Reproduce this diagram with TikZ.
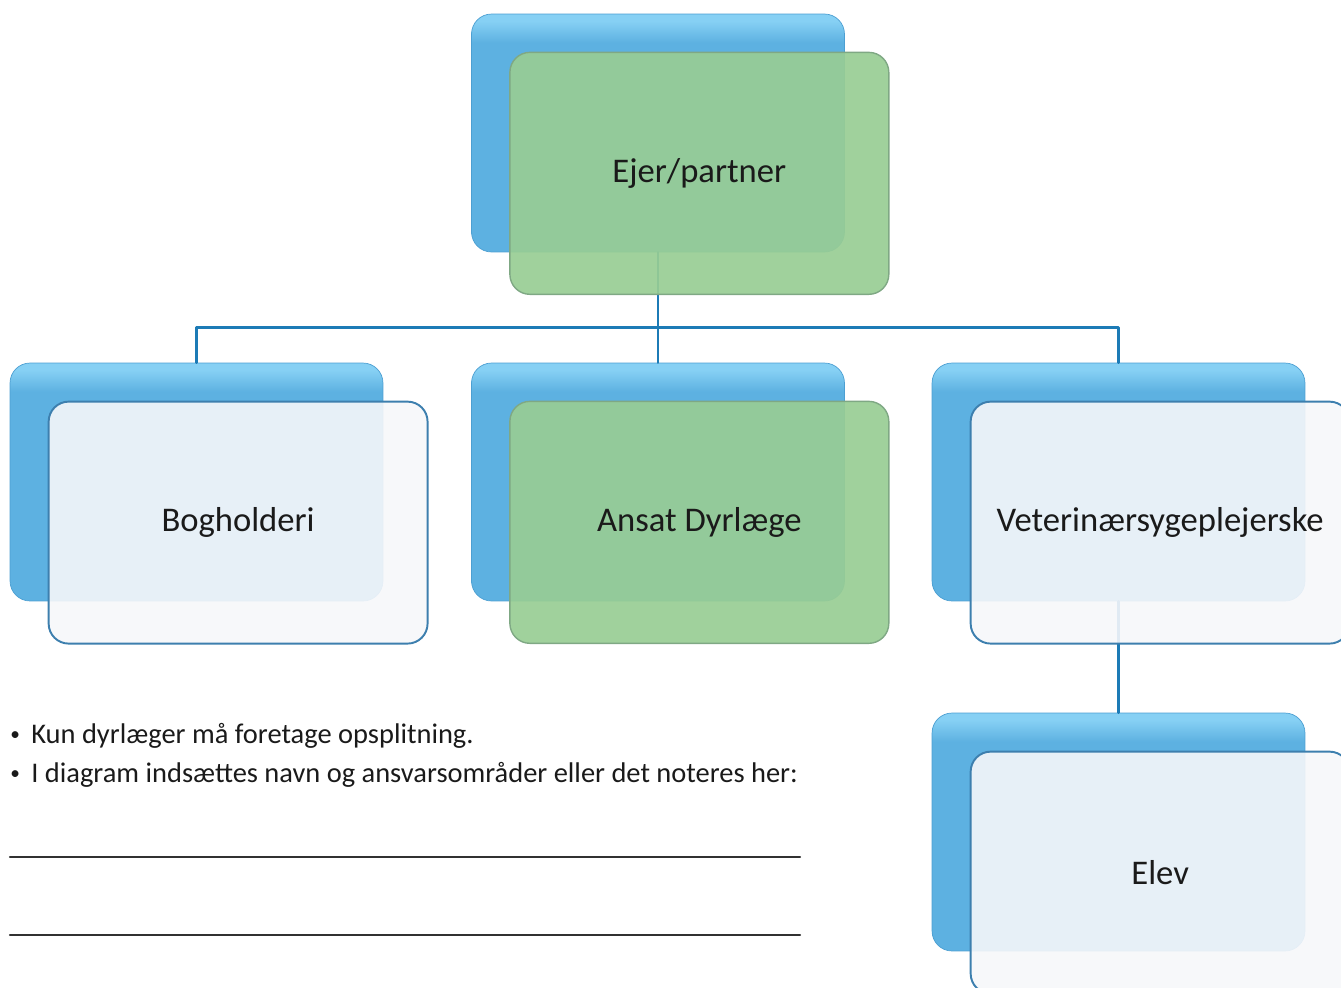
\documentclass[tikz,border=0pt]{standalone}
\usepackage{fontspec}
\setmainfont{Carlito}
\usetikzlibrary{positioning}
\definecolor{blueTop}{HTML}{86D0F4}
\definecolor{blueMain}{HTML}{5DB1E1}
\definecolor{blueEdge}{HTML}{4C9FD2}
\definecolor{lineBlue}{HTML}{1C7BB6}
\definecolor{greenFill}{HTML}{98CD94}
\definecolor{greenEdge}{HTML}{7FA884}
\definecolor{paleFill}{HTML}{F6F7FA}
\definecolor{paleEdge}{HTML}{3D7FAE}
\definecolor{txt}{HTML}{1A1A1A}
\pgfdeclareverticalshading{bluebar}{100bp}{color(0bp)=(blueMain); color(69bp)=(blueMain); color(73.5bp)=(blueTop); color(100bp)=(blueTop)}
\tikzset{
  back/.style={rounded corners=0.4cm, minimum width=7.46cm, minimum height=4.76cm,
    shading=bluebar, draw=blueEdge, line width=0.4pt},
  front/.style={rounded corners=0.4cm, minimum width=7.58cm, minimum height=4.84cm,
    font=\fontsize{19.7}{23}\selectfont, text=txt, text opacity=1},
  palebox/.style={front, fill=paleFill, fill opacity=0.9, draw=paleEdge, draw opacity=1, line width=1.1pt},
  greenbox/.style={front, fill=greenFill, fill opacity=0.92, draw=greenEdge, line width=0.8pt},
  conn/.style={draw=lineBlue, line width=1.5pt},
  notes/.style={font=\fontsize{16.2}{19}\selectfont, text=txt, inner sep=0pt},
  rule/.style={draw=txt!90, line width=1.4pt}
}
\newcommand{\dotmark}{{\fontsize{11}{11}\selectfont\raisebox{0.12em}{•}}\hspace{0.4em}}
\begin{document}
\begin{tikzpicture}[x=0.02cm, y=-0.02cm, line join=round, line cap=round]
\useasboundingbox (0,0) rectangle (1341,987);
\clip (0,0) rectangle (1341,987);
\node[back] (ejerB) at (658,133) {};
\node[back] (bogB) at (196.5,482) {};
\node[back] (dyrB) at (658,482) {};
\node[back] (vetB) at (1118.5,482) {};
\node[back] (elevB) at (1118.5,832) {};
\draw[conn] (ejerB.south) -- ++(0,75) coordinate (bus) -| (bogB.north);
\draw[conn] (bus) -- (dyrB.north);
\draw[conn] (bus) -| (vetB.north);
\draw[conn] (vetB.south) -- (elevB.north);
\node[greenbox, below right=0.76cm and 0.76cm of ejerB.north west] (ejer) {Ejer/partner};
\node[palebox, below right=0.76cm and 0.76cm of bogB.north west] (bog) {Bogholderi};
\node[greenbox, below right=0.76cm and 0.76cm of dyrB.north west] (dyr) {Ansat Dyrlæge};
\node[palebox, below right=0.76cm and 0.76cm of vetB.north west] (vet) {Veterinærsygeplejerske};
\node[palebox, below right=0.76cm and 0.76cm of elevB.north west] (elev) {Elev};
\node[notes, anchor=base west] (note1) at (10,743) {\dotmark Kun dyrlæger må foretage opsplitning.};
\node[notes, anchor=base west] (note2) at (10,782) {\dotmark I diagram indsættes navn og ansvarsområder eller det noteres her:};
\draw[rule] (10,857) -- (800,857);
\draw[rule] (10,935) -- (800,935);
\end{tikzpicture}
\end{document}
